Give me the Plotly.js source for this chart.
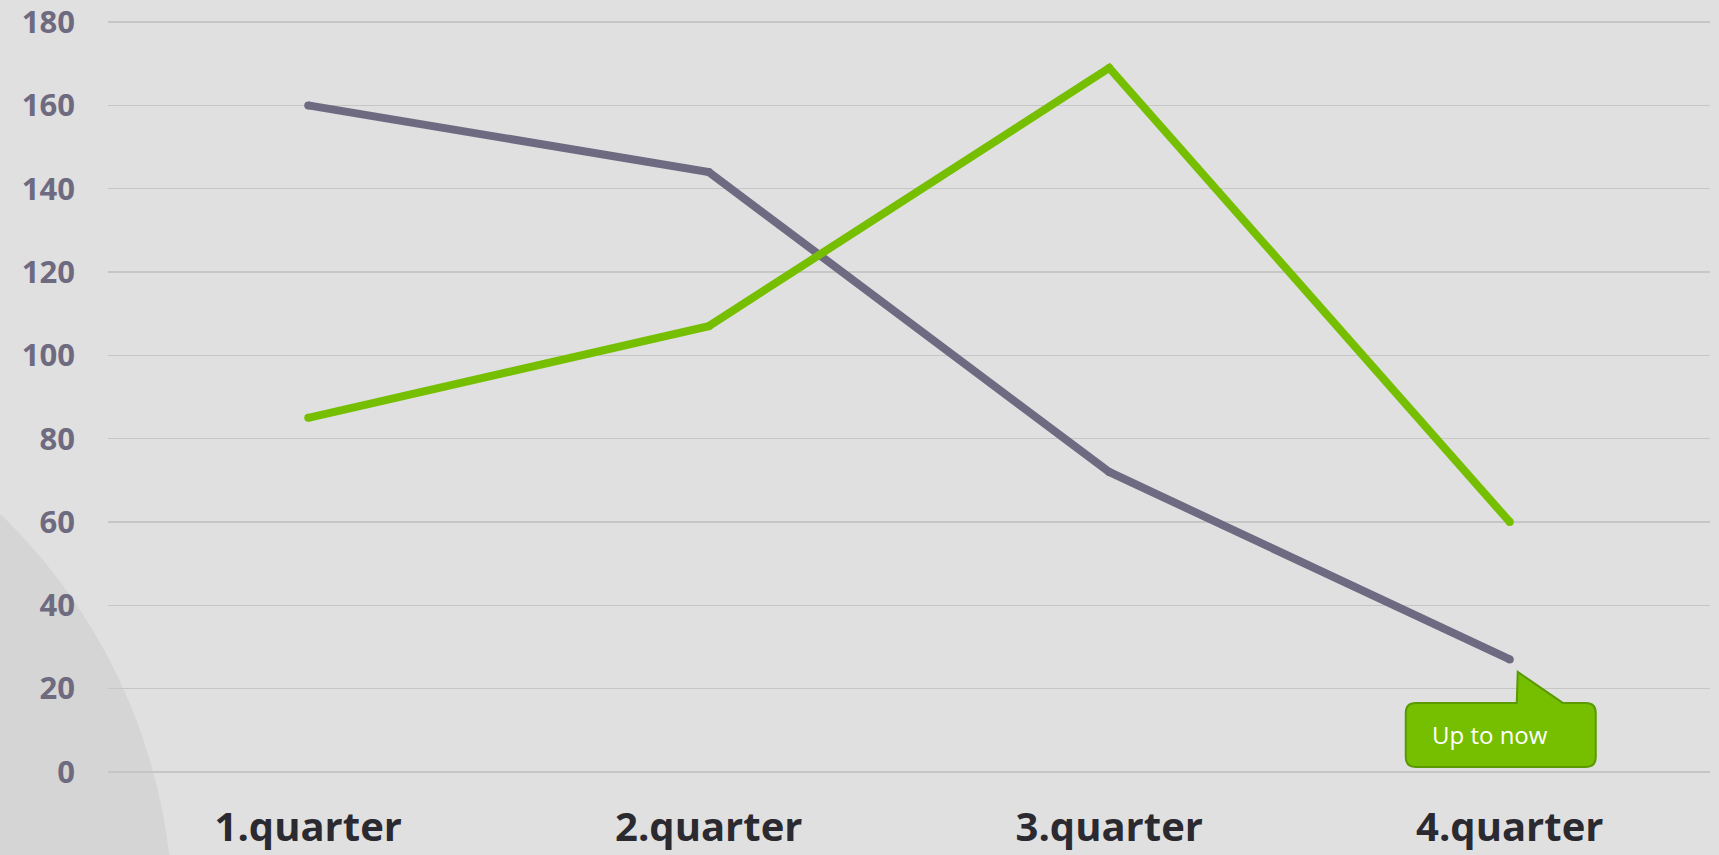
<!DOCTYPE html>
<html>
<head>
<meta charset="utf-8">
<script src="https://cdn.plot.ly/plotly-3.0.1.min.js"></script>
<style>html,body{margin:0;padding:0;background:#e0e0e0;}#chart{width:1719px;height:855px;}</style>
</head>
<body>
<div id="chart"></div>
<script>
const categories = ["1.quarter", "2.quarter", "3.quarter", "4.quarter"];
const seriesGray = [160, 144, 72, 27];
const seriesGreen = [85, 107, 169, 60];
const yTicks = [0, 20, 40, 60, 80, 100, 120, 140, 160, 180];
const calloutText = "Up to now";

const traces = [
  {x: categories, y: seriesGray, type: 'scatter', mode: 'lines+markers', name: 'Series 1',
   line: {color: '#6d6a82', width: 8}, marker: {size: 8, color: '#6d6a82'}, hoverinfo: 'skip'},
  {x: categories, y: seriesGreen, type: 'scatter', mode: 'lines+markers', name: 'Series 2',
   line: {color: '#75bf00', width: 8}, marker: {size: 8, color: '#75bf00'}, hoverinfo: 'skip'}
];

const last = categories.length - 1;
const layout = {
  width: 1719, height: 855,
  margin: {l: 108, r: 9, t: 20, b: 81},
  paper_bgcolor: '#e0e0e0',
  plot_bgcolor: 'rgba(0,0,0,0)',
  showlegend: false,
  xaxis: {
    type: 'category', range: [-0.5, 3.5], showgrid: false, zeroline: false, showline: false,
    ticks: '', ticklabelstandoff: 26, ticklabeloverflow: 'allow',
    tickfont: {family: 'Open Sans', size: 40, color: '#2b2a30', weight: 'bold'}
  },
  yaxis: {
    range: [-0.5, 180.5], tickvals: yTicks, showgrid: true, gridcolor: '#c6c6c6', gridwidth: 1.5,
    zeroline: false, showline: false, ticks: '', ticklabelstandoff: 32, ticklabeloverflow: 'allow',
    tickfont: {family: 'Open Sans', size: 31, color: '#6e6a80', weight: 'bold'}
  },
  shapes: [
    {type: 'circle', xref: 'paper', yref: 'paper', layer: 'below',
     x0: -0.6586, x1: 0.0406, y0: -0.94, y1: 0.552,
     fillcolor: '#d5d5d5', line: {width: 0}},
    {type: 'path', xref: 'x', yref: 'y', xsizemode: 'pixel', ysizemode: 'pixel',
     xanchor: categories[last], yanchor: seriesGray[last], layer: 'above',
     path: 'M -94 -43.5 L 7 -43.5 L 8 -12.5 L 53 -43.5 L 76 -43.5 Q 86 -43.5 86 -53.5 L 86 -97.5 Q 86 -107.5 76 -107.5 L -94 -107.5 Q -104 -107.5 -104 -97.5 L -104 -53.5 Q -104 -43.5 -94 -43.5 Z',
     fillcolor: '#75bf00', line: {color: '#5a9a00', width: 2}}
  ],
  annotations: [
    {x: categories[last], y: seriesGray[last], xref: 'x', yref: 'y', showarrow: false,
     text: calloutText, xanchor: 'left', yanchor: 'middle', xshift: -80, yshift: -75,
     font: {family: 'Open Sans', size: 24, color: '#ffffff'}}
  ]
};

Plotly.newPlot('chart', traces, layout, {displayModeBar: false, staticPlot: true});
</script>
</body>
</html>
